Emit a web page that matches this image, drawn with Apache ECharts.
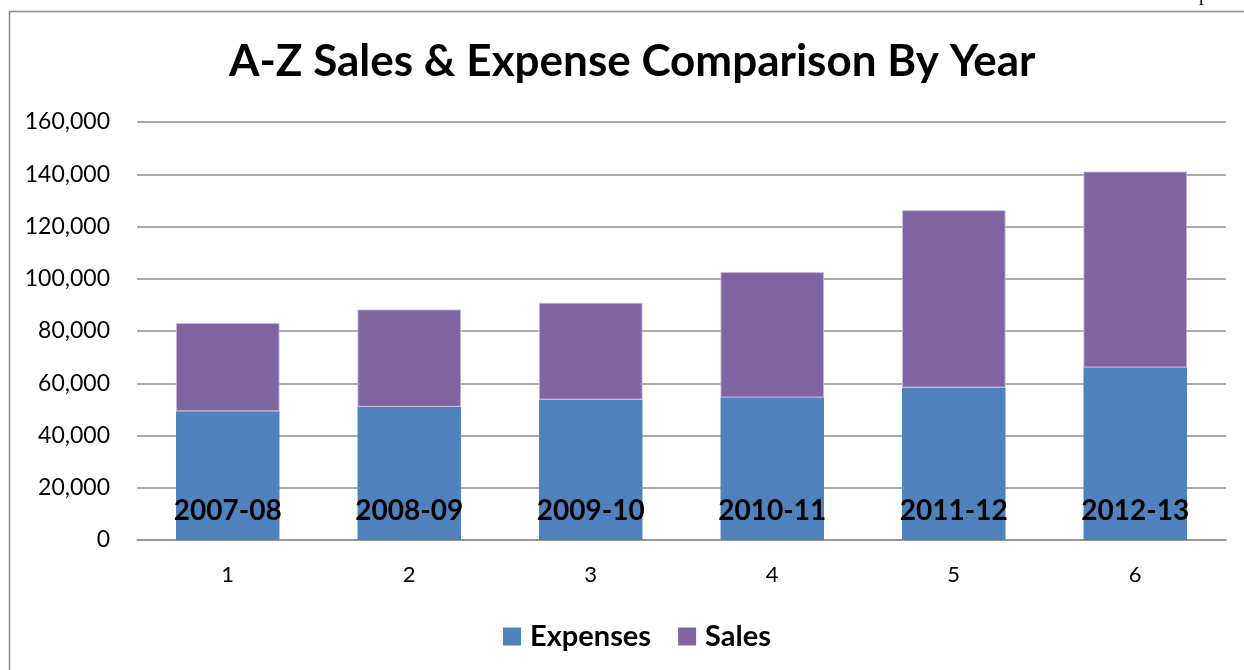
<!DOCTYPE html>
<html>
<head>
<meta charset="utf-8">
<script src="https://cdn.jsdelivr.net/npm/echarts@6/dist/echarts.min.js"></script>
<style>
html,body{margin:0;padding:0;background:#fff;}
#chart{width:1244px;height:670px;}
</style>
</head>
<body>
<div id="chart"></div>
<script>
const categories = ['1', '2', '3', '4', '5', '6'];
const yearLabels = ['2007-08', '2008-09', '2009-10', '2010-11', '2011-12', '2012-13'];
const expenses = [49300, 51000, 53800, 54600, 58400, 66100];
const sales = [33700, 37200, 37000, 47900, 67800, 74900];
const yTicks = [0, 20000, 40000, 60000, 80000, 100000, 120000, 140000, 160000];

const FONT = 'Lato, "Open Sans", sans-serif';
const chart = echarts.init(document.getElementById('chart'));
chart.setOption({
  animation: false,
  backgroundColor: '#ffffff',
  title: {
    text: 'A-Z Sales & Expense Comparison By Year',
    left: 224,
    top: 35,
    textStyle: { fontFamily: FONT, fontSize: 44, fontWeight: 'bold', color: '#000' }
  },
  graphic: [
    { type: 'rect', left: 7, top: 9, shape: { width: 1300, height: 700 },
      style: { fill: 'none', stroke: '#8a8a8a', lineWidth: 1.5 }, silent: true },
    { type: 'text', x: 1199, y: -15, style: { text: 'p', font: '20px "Liberation Serif", serif', fill: '#000', verticalAlign: 'top' }, silent: true }
  ],
  legend: {
    data: ['Expenses', 'Sales'],
    left: 498,
    top: 617,
    icon: 'rect',
    itemWidth: 18,
    itemHeight: 18,
    itemGap: 27,
    itemStyle: { borderWidth: 0 },
    textStyle: { fontFamily: FONT, fontSize: 29, fontWeight: 'bold', color: '#000', padding: [0, 0, 0, 4] }
  },
  grid: { left: 137, right: 18, top: 122, bottom: 130, containLabel: false },
  xAxis: {
    type: 'category',
    data: categories,
    axisLine: { lineStyle: { color: '#8e8e8e', width: 1.5 } },
    axisTick: { show: false },
    axisLabel: { fontFamily: FONT, fontSize: 22, color: '#000', margin: 24 }
  },
  yAxis: {
    type: 'value',
    min: yTicks[0],
    max: yTicks[yTicks.length - 1],
    interval: yTicks[1] - yTicks[0],
    axisLine: { show: false },
    axisTick: { show: false },
    splitLine: { lineStyle: { color: '#8e8e8e', width: 1.5 } },
    axisLabel: {
      fontFamily: FONT, fontSize: 23, color: '#000', margin: 27,
      formatter: v => v.toLocaleString('en-US')
    }
  },
  series: [
    {
      name: 'Expenses',
      type: 'bar',
      stack: 'total',
      data: expenses,
      barWidth: '57%',
      itemStyle: { color: '#4F81BD' },
      label: {
        show: true,
        position: 'insideBottom',
        distance: 15,
        formatter: p => yearLabels[p.dataIndex],
        fontFamily: FONT, fontSize: 28, fontWeight: 'bold', color: '#000',
        lineHeight: 28
      }
    },
    {
      name: 'Sales',
      type: 'bar',
      stack: 'total',
      data: sales,
      barWidth: '57%',
      itemStyle: { color: '#8064A2', borderColor: '#c9b8dc', borderWidth: 0.8 }
    }
  ]
});
</script>
</body>
</html>
